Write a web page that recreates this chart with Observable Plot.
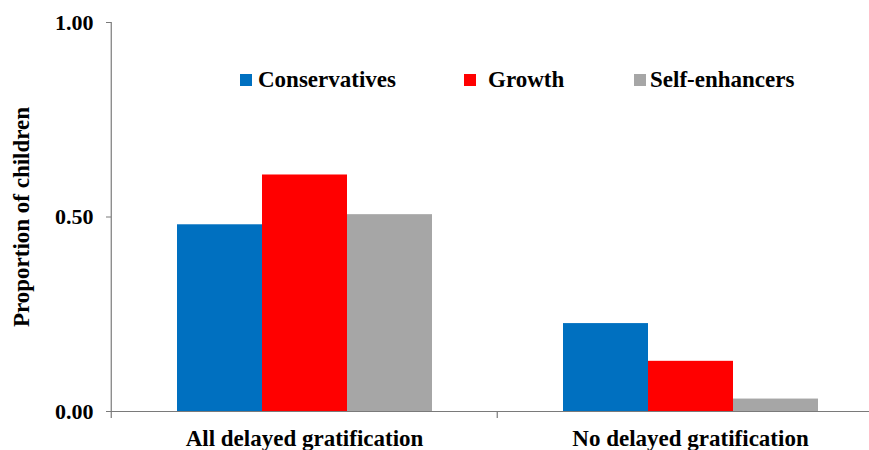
<!DOCTYPE html>
<html>
<head>
<meta charset="utf-8">
<script src="https://cdn.jsdelivr.net/npm/d3@7"></script>
<script src="https://cdn.jsdelivr.net/npm/@observablehq/plot@0.6"></script>
<style>
  html, body { margin: 0; padding: 0; background: white; overflow: hidden; }
</style>
</head>
<body>
<div id="chart"></div>
<script>
const categories = ["All delayed gratification", "No delayed gratification"];
const series = ["Conservatives", "Growth", "Self-enhancers"];
const conservatives = [0.480, 0.226];
const growth = [0.608, 0.129];
const selfEnhancers = [0.506, 0.032];
const seriesColors = ["#0070C0", "#FF0000", "#A6A6A6"];
const yTicks = [0, 0.5, 1];
const yLabel = "Proportion of children";

const seriesValues = [conservatives, growth, selfEnhancers];
const data = categories.flatMap((c, i) =>
  series.map((s, j) => ({category: c, series: s, value: seriesValues[j][i]}))
);
// vertical axis pieces at left edge of each category band
const axisRows = [
  {category: categories[0], top: 1},
  {category: categories[1], top: 0}
];

const W = 869, H = 450;
const mL = 110, mR = -14, mT = 22, mB = 39;
const facetStep = (W - mL - mR) / categories.length;
const axisColor = "#7a7a7a";

const plot = Plot.plot({
  width: W, height: H,
  marginLeft: mL, marginRight: mR, marginTop: mT, marginBottom: mB,
  style: {
    fontFamily: "'Liberation Serif', 'Times New Roman', serif",
    fontWeight: "bold",
    fontSize: "22px",
    color: "black",
    background: "white",
    overflow: "visible"
  },
  fx: {domain: categories, padding: 0, label: null},
  x: {domain: series, paddingInner: 0, paddingOuter: 0.75, axis: null},
  y: {domain: [0, 1]},
  color: {domain: series, range: seriesColors},
  marks: [
    Plot.barY(data, {fx: "category", x: "series", y: "value", fill: "series"}),
    Plot.ruleY([0], {stroke: axisColor, strokeWidth: 1.2}),
    Plot.ruleX(axisRows, {
      fx: "category", x: null, dx: -facetStep / 2,
      y1: "top", y2: () => 0, insetBottom: -7,
      stroke: axisColor, strokeWidth: 1.2
    }),
    Plot.axisY({
      ticks: yTicks, tickFormat: ".2f", tickSize: 5, tickPadding: 13,
      stroke: axisColor, fill: "black", fontSize: 22,
      label: yLabel, labelAnchor: "center", labelOffset: 99, labelArrow: "none"
    }),
    Plot.axisFx({anchor: "bottom", tickSize: 0, tickPadding: 18, label: null, fill: "black", fontSize: 23})
  ]
});

document.getElementById("chart").appendChild(plot);

// make the y-axis title slightly larger
d3.select(plot).selectAll("g[aria-label='y-axis label'] text").attr("font-size", 23);

// Legend inside the plot area
const svg = d3.select(plot);
const colorScale = plot.scale("color");
const legendItems = [
  {label: series[0], sx: 240, tx: 258},
  {label: series[1], sx: 464, tx: 488},
  {label: series[2], sx: 634, tx: 650}
];
const lg = svg.append("g")
  .attr("font-size", 23).attr("font-weight", "bold")
  .attr("text-anchor", "start");
legendItems.forEach((it) => {
  lg.append("rect")
    .attr("x", it.sx).attr("y", 74).attr("width", 12).attr("height", 12)
    .attr("fill", colorScale.range[colorScale.domain.indexOf(it.label)]);
  lg.append("text")
    .attr("x", it.tx).attr("y", 87)
    .attr("fill", "black")
    .attr("text-anchor", "start")
    .text(it.label);
});
</script>
</body>
</html>
